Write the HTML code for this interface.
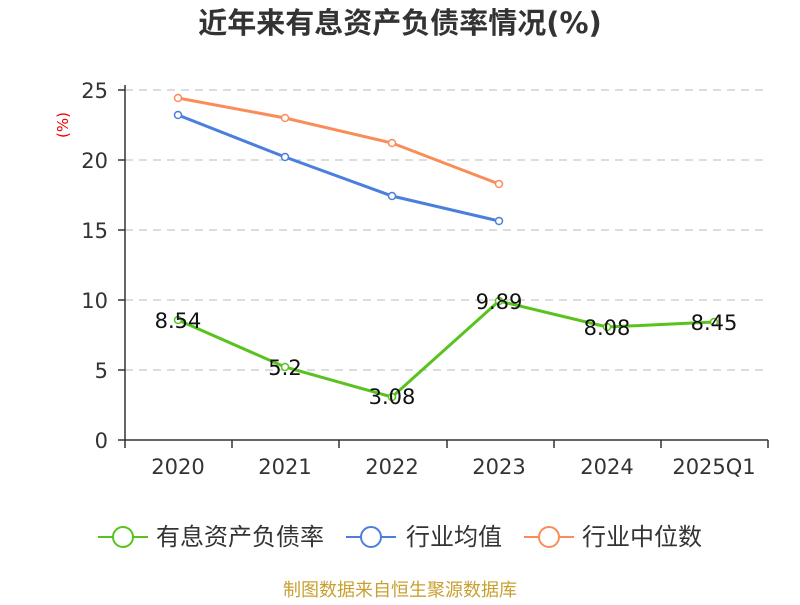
<!DOCTYPE html>
<html><head><meta charset="utf-8"><style>
body{margin:0;background:#fff;}
svg text{font-family:"DejaVu Sans","Noto Sans CJK SC",sans-serif;}
</style></head><body>
<svg width="800" height="600" xmlns="http://www.w3.org/2000/svg">
<text x="400" y="33" text-anchor="middle" font-size="29" font-weight="bold" fill="#333">近年来有息资产负债率情况(%)</text>
<text x="68" y="125" text-anchor="middle" font-size="15" fill="#e00" transform="rotate(-90 68 125)">(%)</text>
<g stroke="#bbb" stroke-dasharray="8,6" stroke-width="1">
<line x1="125" y1="90" x2="768" y2="90"/><line x1="125" y1="160" x2="768" y2="160"/>
<line x1="125" y1="230" x2="768" y2="230"/><line x1="125" y1="300" x2="768" y2="300"/>
<line x1="125" y1="370" x2="768" y2="370"/></g>
<g stroke="#333" stroke-width="1.5">
<line x1="125" y1="85" x2="125" y2="440"/><line x1="125" y1="440" x2="768" y2="440"/>
<line x1="118" y1="90" x2="125" y2="90"/><line x1="118" y1="160" x2="125" y2="160"/><line x1="118" y1="230" x2="125" y2="230"/><line x1="118" y1="300" x2="125" y2="300"/><line x1="118" y1="370" x2="125" y2="370"/><line x1="118" y1="440" x2="125" y2="440"/>
<line x1="125" y1="440" x2="125" y2="448"/><line x1="232" y1="440" x2="232" y2="448"/><line x1="339" y1="440" x2="339" y2="448"/><line x1="447" y1="440" x2="447" y2="448"/><line x1="554" y1="440" x2="554" y2="448"/><line x1="661" y1="440" x2="661" y2="448"/><line x1="768" y1="440" x2="768" y2="448"/>
</g>
<g font-size="21" fill="#333" text-anchor="end">
<text x="108" y="98">25</text><text x="108" y="168">20</text><text x="108" y="238">15</text><text x="108" y="308">10</text><text x="108" y="378">5</text><text x="108" y="448">0</text></g>
<g font-size="21" fill="#333" text-anchor="middle">
<text x="178" y="474">2020</text><text x="285" y="474">2021</text><text x="392" y="474">2022</text><text x="499" y="474">2023</text><text x="607" y="474">2024</text><text x="714" y="474">2025Q1</text></g>
<polyline fill="none" stroke="#fb8c5a" stroke-width="3" points="178,98 285,118 392,143 499,184"/>
<polyline fill="none" stroke="#4a7fdd" stroke-width="3" points="178,115 285,157 392,196 499,221"/>
<polyline fill="none" stroke="#5ac21f" stroke-width="3" points="178,320 285,367 392,397 499,301 607,327 714,322"/>
<g fill="#fff" stroke-width="1.5">
<g stroke="#fb8c5a"><circle cx="178" cy="98" r="3.5"/><circle cx="285" cy="118" r="3.5"/><circle cx="392" cy="143" r="3.5"/><circle cx="499" cy="184" r="3.5"/></g>
<g stroke="#4a7fdd"><circle cx="178" cy="115" r="3.5"/><circle cx="285" cy="157" r="3.5"/><circle cx="392" cy="196" r="3.5"/><circle cx="499" cy="221" r="3.5"/></g>
<g stroke="#5ac21f"><circle cx="178" cy="320" r="3.5"/><circle cx="285" cy="367" r="3.5"/><circle cx="392" cy="397" r="3.5"/><circle cx="499" cy="301" r="3.5"/><circle cx="607" cy="327" r="3.5"/><circle cx="714" cy="322" r="3.5"/></g></g>
<g font-size="21" fill="#111" text-anchor="middle">
<text x="178" y="328">8.54</text><text x="285" y="375">5.2</text><text x="392" y="404">3.08</text><text x="499" y="309">9.89</text><text x="607" y="335">8.08</text><text x="714" y="330">8.45</text></g>
<g stroke-width="2" fill="#fff">
<line x1="98" y1="537" x2="148" y2="537" stroke="#5ac21f"/><circle cx="123" cy="537" r="10" stroke="#5ac21f"/>
<line x1="346" y1="537" x2="396" y2="537" stroke="#4a7fdd"/><circle cx="371" cy="537" r="10" stroke="#4a7fdd"/>
<line x1="524" y1="537" x2="574" y2="537" stroke="#fb8c5a"/><circle cx="549" cy="537" r="10" stroke="#fb8c5a"/></g>
<g font-size="24" fill="#333">
<text x="156" y="545">有息资产负债率</text><text x="406" y="545">行业均值</text><text x="582" y="545">行业中位数</text></g>
<text x="400" y="596" text-anchor="middle" font-size="18" fill="#c8a032">制图数据来自恒生聚源数据库</text>
</svg>
</body></html>
